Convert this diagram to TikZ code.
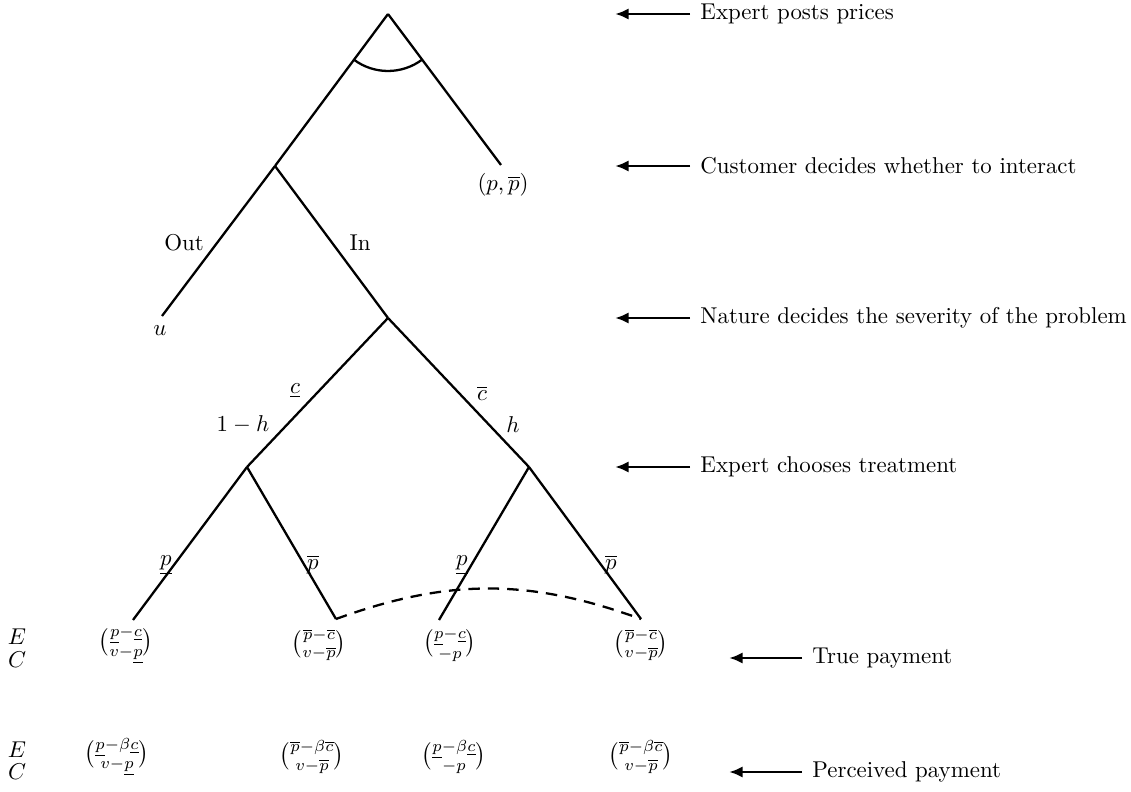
\documentclass[tikz,border=0pt]{standalone}
\usepackage{amsmath}
\usetikzlibrary{arrows.meta,calc}

\tikzset{
  branch/.style={line width=1pt},
  infoset/.style={line width=1pt, dash pattern=on 5pt off 3.5pt},
  stagearrow/.style={-{Latex[length=6pt,width=5pt]}, line width=1.2pt},
  stagetext/.style={anchor=west, inner sep=0pt},
}

\begin{document}
\begin{tikzpicture}[x=0.437pt,y=0.437pt]
\useasboundingbox (0,0) rectangle (1131,792);
\coordinate (root) at (388,778);
\coordinate (cust) at (275,626);
\coordinate (offer) at (501,627);
\coordinate (out) at (162,476);
\coordinate (nature) at (388,474);
\coordinate (expL) at (247,325);
\coordinate (expR) at (529,325);
\coordinate (leafA) at (133,172);
\coordinate (leafB) at (336,173);
\coordinate (leafC) at (439,172);
\coordinate (leafD) at (641,173);
\coordinate (arcL) at ($(root)!0.301!(cust)$);
\draw[branch] (root) -- (cust);
\draw[branch] (root) -- (offer);
\draw[branch] (cust) -- (out);
\draw[branch] (cust) -- (nature);
\draw[branch] (nature) -- (expL);
\draw[branch] (nature) -- (expR);
\draw[branch] (expL) -- (leafA);
\draw[branch] (expL) -- (leafB);
\draw[branch] (expR) -- (leafC);
\draw[branch] (expR) -- (leafD);
\draw[branch] (arcL) arc[start angle=233.4, end angle=306.8, radius=57];
\draw[infoset] (leafB) to[bend left=20] (leafD);
\node (prices) at (503,607) {$(p,\overline{p})$};
\node (outval) at (160,461) {$u$};
\node (outlbl) at (184,549) {Out};
\node (inlbl) at (360,549) {In};
\node (lowc) at (295,401) {$\underline{c}$};
\node (lowh) at (243,367) {$1-h$};
\node (highc) at (482,399) {$\overline{c}$};
\node (highh) at (513,367) {$h$};
\node (pA) at (166,227) {$\underline{p}$};
\node (pB) at (313,227) {$\overline{p}$};
\node (pC) at (462,227) {$\underline{p}$};
\node (pD) at (611,227) {$\overline{p}$};
\node (trueE) at (17,155) {$E$};
\node (trueC) at (17,132) {$C$};
\node (trueA) at (126,147) {$\binom{\underline{p}-\underline{c}}{v-\underline{p}}$};
\node (trueB) at (319,147) {$\binom{\overline{p}-\overline{c}}{v-\overline{p}}$};
\node (trueCC) at (450,147) {$\binom{\underline{p}-\underline{c}}{-p}$};
\node (trueD) at (641,147) {$\binom{\overline{p}-\overline{c}}{v-\overline{p}}$};
\node (percE) at (17,42) {$E$};
\node (percC) at (17,20) {$C$};
\node (percA) at (117,35) {$\binom{\underline{p}-\beta\underline{c}}{v-\underline{p}}$};
\node (percB) at (312,35) {$\binom{\overline{p}-\beta\overline{c}}{v-\overline{p}}$};
\node (percCC) at (454,35) {$\binom{\underline{p}-\beta\underline{c}}{-p}$};
\node (percD) at (641,35) {$\binom{\overline{p}-\beta\overline{c}}{v-\overline{p}}$};
\node[stagetext] (s1) at (700,778) {Expert posts prices};
\node[stagetext] (s2) at (700,626) {Customer decides whether to interact};
\node[stagetext] (s3) at (700,474) {Nature decides the severity of the problem};
\node[stagetext] (s4) at (700,325) {Expert chooses treatment};
\node[stagetext] (s5) at (812,134) {True payment};
\node[stagetext] (s6) at (812,20) {Perceived payment};
\draw[stagearrow] ($(s1.west)+(-10,0)$) coordinate (t1) -- ++(-75,0) coordinate (h1);
\draw[stagearrow] ($(s2.west)+(-10,0)$) coordinate (t2) -- ++(-75,0) coordinate (h2);
\draw[stagearrow] ($(s3.west)+(-10,0)$) coordinate (t3) -- ++(-75,0) coordinate (h3);
\draw[stagearrow] ($(s4.west)+(-10,0)$) coordinate (t4) -- ++(-75,0) coordinate (h4);
\draw[stagearrow] ($(s5.west)+(-10,0)$) coordinate (t5) -- ++(-73,0) coordinate (h5);
\draw[stagearrow] ($(s6.west)+(-10,0)$) coordinate (t6) -- ++(-73,0) coordinate (h6);
\end{tikzpicture}
\end{document}
